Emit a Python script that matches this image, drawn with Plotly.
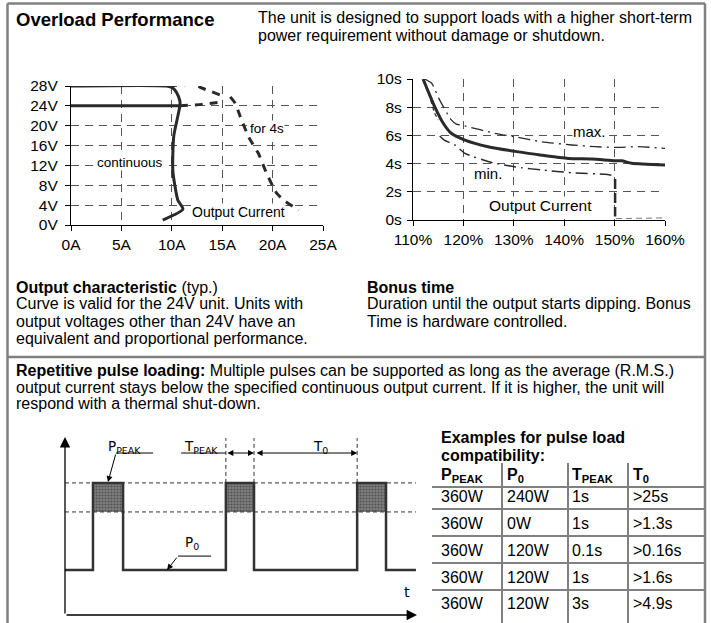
import plotly.graph_objects as go

W, H = 711, 623
FONT = "Arial, Liberation Sans, sans-serif"
DFONT = "Verdana, DejaVu Sans, sans-serif"
INK = "#2a2a2a"
GRID = "#555555"
BORDER = "#808080"

# ---------------- Chart 1: output characteristic ----------------
amp_ticks = [0, 5, 10, 15, 20, 25]
amp_labels = ["0A", "5A", "10A", "15A", "20A", "25A"]
volt_ticks = [0, 4, 8, 12, 16, 20, 24, 28]
volt_labels = ["0V", "4V", "8V", "12V", "16V", "20V", "24V", "28V"]

cont_amps = [0, 9.5, 10.1, 10.5, 10.8, 10.8, 10.5, 10.2, 10.1, 10.1, 10.3, 10.6, 11.1, 9.1]
cont_volts = [28, 28, 27.6, 26.6, 25.0, 24.0, 21.0, 18.0, 14.0, 11.0, 8.0, 5.0, 3.2, 1.0]
set24_amps = [0, 10.8]
set24_volts = [24, 24]
peak28_amps = [9.7, 12.1, 13.1, 14.8]
peak28_volts = [28.0, 28.3, 27.5, 26.2]
peak24_amps = [10.8, 13.0, 15.0]
peak24_volts = [24.0, 24.3, 24.8]
drop_amps = [15.8, 16.3, 16.8, 17.6, 18.6, 19.4, 20.4, 21.1, 22.6]
drop_volts = [25.8, 24.5, 21.8, 17.8, 14.4, 10.4, 6.4, 5.0, 3.0]

# ---------------- Chart 2: bonus time ----------------
pct_ticks = [110, 120, 130, 140, 150, 160]
pct_labels = ["110%", "120%", "130%", "140%", "150%", "160%"]
sec_ticks = [0, 2, 4, 6, 8, 10]
sec_labels = ["0s", "2s", "4s", "6s", "8s", "10s"]

typ_pct = [112.0, 114.3, 116.0, 117.6, 120.3, 124.9, 130.6, 135.5, 140.8, 145.5, 150.1, 151.4, 153.4, 160]
typ_sec = [10.0, 8.04, 6.86, 6.15, 5.67, 5.2, 4.85, 4.6, 4.37, 4.33, 4.2, 4.2, 4.02, 3.9]
max_pct = [112.3, 113.7, 115.3, 117.6, 118.6, 120.3, 126.2, 130.2, 135.5, 141.5, 146.1, 150.1, 154.7, 160]
max_sec = [10.0, 9.7, 8.5, 7.1, 6.8, 6.67, 6.15, 5.9, 5.55, 5.32, 5.2, 5.15, 5.2, 5.08]
min_top_pct = [112.0, 113.3, 114.3, 115.0]
min_top_sec = [9.9, 8.75, 7.57, 7.1]
min_pct = [115.3, 116.2, 118.3, 120.3, 126.2, 131.5, 135.5, 141.5, 148.1, 150.1]
min_sec = [5.96, 5.67, 5.32, 4.73, 4.02, 3.71, 3.55, 3.35, 3.24, 3.13]
dip_pct = [150.1, 150.1]
dip_sec = [2.9, 0.25]
floor_pct = [150.3, 160]
floor_sec = [0.1, 0.15]

# ---------------- Chart 3: pulse diagram (schematic units) ----------------
pulse_start = [7.95, 45.7, 83.0]
pulse_end = [16.5, 53.7, 91.2]
t_end = 99.7
lvl_p0 = 25.3
lvl_100 = 57.9
lvl_150 = 74.2
lvl_arrow = 91.0
lvl_label = 94.4
lvl_vtop = 99.4

# ---------------- Table ----------------
table_header = ["<b>P<sub>PEAK</sub></b>", "<b>P<sub>0</sub></b>", "<b>T<sub>PEAK</sub></b>", "<b>T<sub>0</sub></b>"]
table_rows = [
    ["360W", "240W", "1s", ">25s"],
    ["360W", "0W", "1s", ">1.3s"],
    ["360W", "120W", "0.1s", ">0.16s"],
    ["360W", "120W", "1s", ">1.6s"],
    ["360W", "120W", "3s", ">4.9s"],
]


def px(x):
    return x / W


def py(y):
    return 1 - y / H


fig = go.Figure()


def line(x, y, xa, ya, width=3, dash="solid", color=INK, smooth=0.0):
    fig.add_trace(go.Scatter(
        x=x, y=y, xaxis=xa, yaxis=ya, mode="lines",
        line=dict(color=color, width=width, dash=dash,
                  shape="spline" if smooth else "linear", smoothing=smooth),
        hoverinfo="skip", showlegend=False))


# chart 1 curves
line(set24_amps, set24_volts, "x", "y", width=3)
line(cont_amps, cont_volts, "x", "y", width=3, smooth=0.6)
line(peak28_amps, peak28_volts, "x", "y", width=3, dash="8px,7px", smooth=0.6)
line(peak24_amps, peak24_volts, "x", "y", width=3, dash="8px,7px", smooth=0.6)
line(drop_amps, drop_volts, "x", "y", width=3, dash="8px,7px", smooth=0.4)

# chart 2 curves
line(typ_pct, typ_sec, "x2", "y2", width=3, smooth=0.6)
line(max_pct, max_sec, "x2", "y2", width=1.3, dash="12px,5px,2px,5px", smooth=0.6)
line(min_top_pct, min_top_sec, "x2", "y2", width=1.2, dash="4px,3px", smooth=0.6)
line(min_pct, min_sec, "x2", "y2", width=1.5, dash="12px,5px,2px,5px", smooth=0.6)
line(dip_pct, dip_sec, "x2", "y2", width=2.5, dash="10px,4px")
line(floor_pct, floor_sec, "x2", "y2", width=1, dash="6px,4px", color="#777")

# chart 3: shaded peak areas
for s, e in zip(pulse_start, pulse_end):
    fig.add_trace(go.Scatter(
        x=[s, e, e, s, s], y=[lvl_100, lvl_100, lvl_150, lvl_150, lvl_100],
        xaxis="x3", yaxis="y3", mode="lines", fill="toself",
        fillcolor="#777777", line=dict(width=0),
        fillpattern=dict(shape=".", fgcolor="#222222", bgcolor="#808080", size=3, solidity=0.4),
        hoverinfo="skip", showlegend=False))

# level dashed lines
for lv in [lvl_150, lvl_100]:
    line([0, t_end], [lv, lv], "x3", "y3", width=1, dash="4px,3px", color="#333")
# vertical dashed guides
for xv in [pulse_start[1], pulse_end[1], pulse_start[2]]:
    line([xv, xv], [lvl_150, lvl_vtop], "x3", "y3", width=1, dash="4px,3px", color="#333")

# waveform
wx, wy = [0], [lvl_p0]
for s, e in zip(pulse_start, pulse_end):
    wx += [s, s, e, e]
    wy += [lvl_p0, lvl_150, lvl_150, lvl_p0]
wx.append(t_end)
wy.append(lvl_p0)
line(wx, wy, "x3", "y3", width=2.5, color="#333")

# leader lines
line([14.5, 25.0], [lvl_arrow, lvl_arrow], "x3", "y3", width=1, color="black")
line([33.0, pulse_start[1]], [lvl_arrow, lvl_arrow], "x3", "y3", width=1, color="black")
line([32.1, 41.5], [33.1, 33.1], "x3", "y3", width=1, color="black")

annotations = []


def ptxt(x, y, text, size=16, xanchor="left", font=FONT, bold=False):
    annotations.append(dict(
        x=px(x), y=py(y), xref="paper", yref="paper", text=("<b>%s</b>" % text) if bold else text,
        showarrow=False, xanchor=xanchor, yanchor="middle", borderpad=0,
        font=dict(family=font, size=size, color="black")))


def dtxt(x, y, text, xa, ya, size=14, bg="white", font=FONT, xanchor="center"):
    annotations.append(dict(
        x=x, y=y, xref=xa, yref=ya, text=text, showarrow=False,
        xanchor=xanchor, yanchor="middle", bgcolor=bg, borderpad=0,
        font=dict(family=font, size=size, color="black")))


def arrow(x0, y0, x1, y1, side="end", size=1.0, width=1.2):
    annotations.append(dict(
        x=x1, y=y1, ax=x0, ay=y0, xref="x3", yref="y3", axref="x3", ayref="y3",
        text="", showarrow=True, arrowhead=2, arrowsize=size, arrowwidth=width,
        arrowcolor="black", arrowside=side, standoff=0, startstandoff=0))


# header texts
ptxt(15, 20, "Overload Performance", size=18.5, bold=True)
ptxt(257, 17, "The unit is designed to support loads with a higher short-term")
ptxt(257, 35, "power requirement without damage or shutdown.")

ptxt(15, 287, "<b>Output characteristic</b> (typ.)")
ptxt(15, 304, "Curve is valid for the 24V unit. Units with")
ptxt(15, 321, "output voltages other than 24V have an")
ptxt(15, 339, "equivalent and proportional performance.")
ptxt(366, 287, "Bonus time", bold=True)
ptxt(366, 304, "Duration until the output starts dipping. Bonus")
ptxt(366, 321, "Time is hardware controlled.")

ptxt(15, 370, "<b>Repetitive pulse loading:</b> Multiple pulses can be supported as long as the average (R.M.S.)")
ptxt(15, 387, "output current stays below the specified continuous output current. If it is higher, the unit will")
ptxt(15, 404, "respond with a thermal shut-down.")

# chart labels
dtxt(19.4, 19.5, "for 4s", "x", "y", size=13.5)
dtxt(5.9, 12.5, "continuous", "x", "y", size=13.5)
dtxt(16.6, 2.7, "Output Current", "x", "y", size=14)
dtxt(145.1, 6.26, "max.", "x2", "y2", size=15)
dtxt(124.9, 3.3, "min.", "x2", "y2", size=15)
dtxt(135.2, 1.06, "Output Current", "x2", "y2", size=15.5)

# chart 3 labels
dfs = 13.5
dtxt(-6.2, lvl_label, "P<sub>OUT</sub>", "x3", "y3", size=dfs, font=DFONT, bg=None)
dtxt(-6.8, 73.6, "max.", "x3", "y3", size=dfs - 0.5, font=DFONT, bg=None)
dtxt(-6.5, 65.7, "150%", "x3", "y3", size=dfs - 0.5, font=DFONT, bg=None)
dtxt(-6.5, lvl_100, "100%", "x3", "y3", size=dfs - 0.5, font=DFONT, bg=None)
dtxt(-6.5, 3.9, "0%", "x3", "y3", size=dfs - 0.5, font=DFONT, bg=None)
dtxt(17.0, lvl_label, "P<sub>PEAK</sub>", "x3", "y3", size=dfs, font=DFONT, bg=None)
dtxt(38.6, lvl_label, "T<sub>PEAK</sub>", "x3", "y3", size=dfs, font=DFONT, bg=None)
dtxt(72.5, lvl_label, "T<sub>0</sub>", "x3", "y3", size=dfs, font=DFONT, bg=None)
dtxt(36.1, 40.4, "P<sub>0</sub>", "x3", "y3", size=dfs, font=DFONT, bg=None)
dtxt(97.2, 12.9, "t", "x3", "y3", size=dfs + 1, font=DFONT, bg=None)

# chart 3 arrows
arrow(0, 0, 0, 100, size=1.6, width=1.3)
arrow(0, 0, 100, 0, size=1.6, width=1.3)
arrow(14.5, lvl_arrow, 12.2, lvl_150 + 0.5, size=1.2, width=1)
arrow(32.1, 33.1, 29.0, lvl_p0, size=1.2, width=1)
arrow(pulse_start[1], lvl_arrow, pulse_end[1], lvl_arrow, side="end+start", size=1.2, width=1)
arrow(pulse_end[1] + 0.3, lvl_arrow, pulse_start[2], lvl_arrow, side="end+start", size=1.2, width=1)

# table
ptxt(440, 437, "Examples for pulse load", bold=True)
ptxt(440, 455, "compatibility:", bold=True)
col_x = [440, 506, 571, 632]
col_lines = [502, 568, 628]
row_y = [475, 497, 523, 550, 577, 603]
hline_y = [487, 509, 536, 563, 590]
for cx, t in zip(col_x, table_header):
    ptxt(cx, row_y[0], t)
for r, ry in zip(table_rows, row_y[1:]):
    for cx, t in zip(col_x, r):
        ptxt(cx, ry, t)

shapes = []


def pline(x0, y0, x1, y1, color=BORDER, width=2):
    shapes.append(dict(type="line", xref="paper", yref="paper",
                       x0=px(x0), y0=py(y0), x1=px(x1), y1=py(y1),
                       line=dict(color=color, width=width)))


for cl in col_lines:
    pline(cl, 463, cl, 623, width=2)
for hl in hline_y:
    pline(432, hl, 705, hl, width=2)

# outer frame
pline(7.5, 3.5, 705, 3.5, width=2.5)
pline(7.5, 3.5, 7.5, 623, width=2.5)
pline(705, 3.5, 705, 623, width=2.5)
pline(7.5, 357, 705, 357, width=2.5)

axis_common = dict(showgrid=True, gridcolor=GRID, griddash="8px,6px", gridwidth=1,
                   showline=True, linecolor="black", linewidth=1.3, ticks="outside",
                   ticklen=5, tickcolor="black", zeroline=False, fixedrange=True,
                   automargin=False, tickmode="array",
                   tickfont=dict(family=FONT, size=15.5, color="black"))

fig.update_layout(
    width=W, height=H, margin=dict(l=0, r=0, t=0, b=0, pad=0, autoexpand=False),
    paper_bgcolor="white", plot_bgcolor="rgba(0,0,0,0)", showlegend=False,
    font=dict(family=FONT, size=14, color="black"),
    xaxis=dict(domain=[px(71), px(323)], range=[0, 25], anchor="y",
               tickvals=amp_ticks, ticktext=amp_labels, **axis_common),
    yaxis=dict(domain=[py(225), py(86)], range=[0, 28], anchor="x",
               tickvals=volt_ticks, ticktext=volt_labels, ticklabelstandoff=4, **axis_common),
    xaxis2=dict(domain=[px(413), px(665)], range=[110, 160], anchor="y2",
                tickvals=pct_ticks, ticktext=pct_labels, **axis_common),
    yaxis2=dict(domain=[py(220), py(79)], range=[0, 10], anchor="x2",
                tickvals=sec_ticks, ticktext=sec_labels, ticklabelstandoff=2, **axis_common),
    xaxis3=dict(domain=[px(65), px(417)], range=[0, 100], anchor="y3", visible=False,
                fixedrange=True, automargin=False),
    yaxis3=dict(domain=[py(615), py(437)], range=[0, 100], anchor="x3", visible=False,
                fixedrange=True, automargin=False),
    annotations=annotations, shapes=shapes,
)

fig.write_html("out.html", config={"displayModeBar": False},
               post_script="document.body.style.margin='0px';document.body.style.overflow='hidden';")
